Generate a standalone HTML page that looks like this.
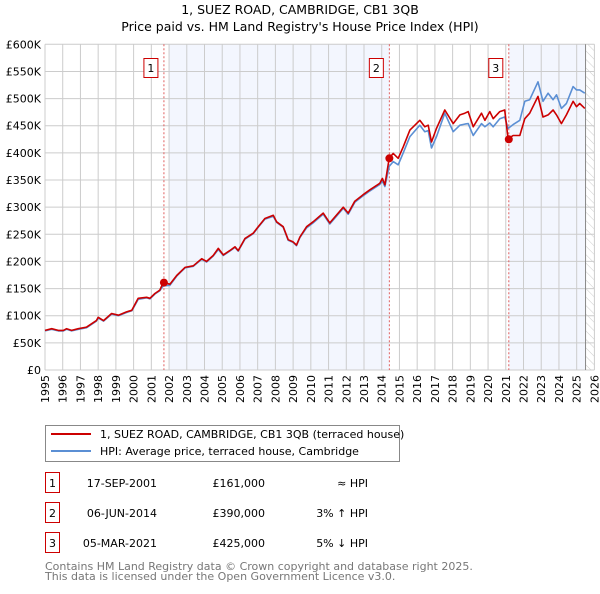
<!DOCTYPE html>
<html><head><meta charset="utf-8"><style>
body{margin:0;background:#fff;font-family:"DejaVu Sans","Liberation Sans",sans-serif;}
svg text{font-family:"DejaVu Sans","Liberation Sans",sans-serif;}
</style></head><body>
<svg id="c" width="600" height="590" viewBox="0 0 600 590" xmlns="http://www.w3.org/2000/svg">
<defs><pattern id="hatch" width="6" height="6" patternUnits="userSpaceOnUse" patternTransform="rotate(-45)"><line x1="0" y1="0" x2="0" y2="6" stroke="#ccc" stroke-width="1"/></pattern></defs>
<text x="300" y="14" text-anchor="middle" font-size="12.5">1, SUEZ ROAD, CAMBRIDGE, CB1 3QB</text>
<text x="300" y="31" text-anchor="middle" font-size="12.5">Price paid vs. HM Land Registry's House Price Index (HPI)</text>
<g id="plot"></g>
<g>
<rect x="45.5" y="425.5" width="354" height="36" fill="#fff" stroke="#888"/>
<line x1="51" y1="434" x2="91" y2="434" stroke="#cc0000" stroke-width="2"/>
<text x="100" y="438" font-size="11">1, SUEZ ROAD, CAMBRIDGE, CB1 3QB (terraced house)</text>
<line x1="51" y1="451" x2="91" y2="451" stroke="#5b8fd4" stroke-width="2"/>
<text x="100" y="455" font-size="11">HPI: Average price, terraced house, Cambridge</text>
</g>
<g id="table" font-size="11"></g>
<text x="45" y="570" font-size="11" fill="#777">Contains HM Land Registry data © Crown copyright and database right 2025.</text>
<text x="45" y="580" font-size="11" fill="#777">This data is licensed under the Open Government Licence v3.0.</text>
</svg>
<script>
const yTicks=[0,50,100,150,200,250,300,350,400,450,500,550,600];
const yTickLabels=["£0","£50K","£100K","£150K","£200K","£250K","£300K","£350K","£400K","£450K","£500K","£550K","£600K"];
const xYears=[1995,1996,1997,1998,1999,2000,2001,2002,2003,2004,2005,2006,2007,2008,2009,2010,2011,2012,2013,2014,2015,2016,2017,2018,2019,2020,2021,2022,2023,2024,2025,2026];
const priceT=[1995.0,1995.38,1995.75,1996.03,1996.22,1996.5,1996.88,1997.35,1997.9,1998.0,1998.3,1998.76,1999.14,1999.6,1999.9,2000.26,2000.73,2000.92,2001.2,2001.48,2001.67,2002.05,2002.43,2002.9,2003.37,2003.84,2004.12,2004.49,2004.78,2005.06,2005.43,2005.72,2005.9,2006.28,2006.75,2007.03,2007.41,2007.88,2008.07,2008.44,2008.72,2009.0,2009.19,2009.38,2009.76,2010.13,2010.7,2011.07,2011.83,2012.11,2012.48,2012.95,2013.33,2013.89,2014.04,2014.18,2014.42,2014.65,2014.93,2015.21,2015.59,2016.15,2016.43,2016.62,2016.81,2017.09,2017.56,2018.03,2018.41,2018.69,2018.88,2019.16,2019.63,2019.82,2020.1,2020.29,2020.66,2020.94,2021.13,2021.41,2021.79,2022.07,2022.35,2022.82,2023.1,2023.39,2023.67,2023.86,2024.14,2024.42,2024.8,2024.99,2025.17,2025.46];
const priceV=[73,76,73,73,76,73,76,79,91,97,91,104,101,107,110,132,134,132,141,147,161,158,174,189,192,205,200,211,224,212,220,227,220,242,252,264,279,285,273,264,240,236,230,245,264,273,289,271,300,289,311,323,332,344,353,341,390,399,390,411,442,460,448,451,420,445,479,454,470,473,476,448,473,460,476,463,476,479,426,432,432,463,473,504,466,470,479,470,454,470,495,485,491,482];
const hpiT=priceT;
const hpiV=[72,75,72,72,75,72,75,78,90,96,90,103,100,106,109,130,133,131,140,146,155,156,173,188,191,204,199,210,222,211,219,226,219,241,251,263,278,283,272,263,239,235,229,244,262,271,287,269,298,287,309,321,330,342,348,338,375,384,378,400,430,451,439,441,409,430,473,439,451,453,454,432,454,448,455,448,463,466,445,452,460,495,498,531,495,510,498,507,482,491,522,516,516,510];
const salesT=[2001.71,2014.43,2021.17];
const salesV=[161,390,425];
const salesLabel=["1","2","3"];
const salesDate=["17-SEP-2001","06-JUN-2014","05-MAR-2021"];
const salesPrice=["£161,000","£390,000","£425,000"];
const salesRel=["≈ HPI","3% ↑ HPI","5% ↓ HPI"];

const NS="http://www.w3.org/2000/svg";
const X0=45,X1=594.4,Y0=370,Y1=44.3;
const x=t=>X0+(t-1995)/(2026-1995)*(X1-X0);
const y=v=>Y0-v/600*(Y0-Y1);
const plot=document.getElementById('plot');
function mk(tag,a,p){const e=document.createElementNS(NS,tag);for(const k in a)e.setAttribute(k,a[k]);(p||plot).appendChild(e);return e;}
let s=mk('rect',{x:x(2002),y:Y1,width:x(salesT[1])-x(2002),height:Y0-Y1,fill:'#f3f6fe'});


s=mk('rect',{x:x(salesT[2]),y:Y1,width:x(2025.5)-x(salesT[2]),height:Y0-Y1,fill:'#f3f6fe'});


s=mk('rect',{x:x(2025.5),y:Y1,width:X1-x(2025.5),height:Y0-Y1,fill:'url(#hatch)'});


yTicks.forEach((v,i)=>{
 const l=mk('line',{x1:X0,x2:X1,y1:y(v),y2:y(v),stroke:'#ccc','stroke-width':1});
 
 
 const t=mk('text',{x:X0-4,y:y(v)+4,'text-anchor':'end','font-size':11});
 
 
 t.textContent=yTickLabels[i];
});
xYears.forEach(yr=>{
 const l=mk('line',{x1:x(yr),x2:x(yr),y1:Y1,y2:Y0,stroke:'#ccc','stroke-width':1});
 
 
 const t=mk('text',{x:0,y:0,'text-anchor':'end','font-size':11,transform:`translate(${x(yr)+4},${Y0+5}) rotate(-90)`});
 
 
 t.textContent=yr;
});
let ln=mk('line',{x1:x(2025.5),x2:x(2025.5),y1:Y1,y2:Y0,stroke:'#888','stroke-width':1});


salesT.forEach((t,i)=>{
 const l=mk('line',{x1:x(t),x2:x(t),y1:Y1,y2:Y0,stroke:'#e06060','stroke-width':1,'stroke-dasharray':'2,2'});
 
 
 const b=mk('rect',{x:x(t)-20,y:58.5,width:14,height:19,fill:'#fff',stroke:'#cc0000'});
 
 
 const tx=mk('text',{x:x(t)-13,y:72,'text-anchor':'middle','font-size':11});
 
 
 tx.textContent=salesLabel[i];
});
function path(T,V,col,name){
 const d=T.map((t,i)=>(i?'L':'M')+x(t).toFixed(1)+','+y(V[i]).toFixed(1)).join('');
 const p=mk('path',{d:d,fill:'none',stroke:col,'stroke-width':1.6,'stroke-linejoin':'round'});
 
 
}
path(hpiT,hpiV,'#5b8fd4','hpi-line');
path(priceT,priceV,'#cc0000','price-line');
salesT.forEach((t,i)=>{
 const c=mk('circle',{cx:x(t),cy:y(salesV[i]),r:4,fill:'#cc0000'});
 
 
});
const tb=document.getElementById('table');
const rowY=[483,513,543];
salesLabel.forEach((lab,i)=>{
 const cy=rowY[i];
 const b=mk('rect',{x:45.5,y:cy-10.5,width:14,height:20,fill:'#fff',stroke:'#cc0000'},tb);
 
 
 const cells=[[52.5,'middle',lab],[157,'end',salesDate[i]],[265,'end',salesPrice[i]],[368,'end',salesRel[i]]];
 cells.forEach((c,j)=>{
  const t=mk('text',{x:c[0],y:cy+4,'text-anchor':c[1]},tb);
  
  
  t.textContent=c[2];
 });
});
</script>
</body></html>
